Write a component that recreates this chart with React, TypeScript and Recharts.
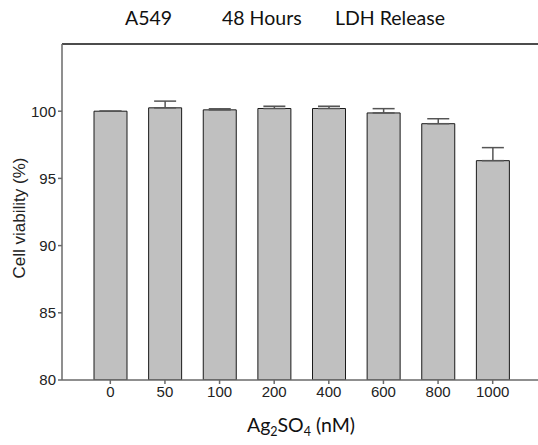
import React from "react";
import { BarChart, Bar, XAxis, YAxis, ErrorBar, ReferenceLine } from "recharts";

const categories = ["0", "50", "100", "200", "400", "600", "800", "1000"];
const viability = [100.0, 100.25, 100.1, 100.2, 100.2, 99.87, 99.07, 96.32];
const upperError = [0, 0.5, 0.08, 0.17, 0.17, 0.32, 0.37, 0.97];
const yTicks = [80, 85, 90, 95, 100];

const data = categories.map((c, i) => ({
  dose: c,
  value: viability[i],
  err: [0, upperError[i]],
}));

const axisColor = "#6a6a6a";
const calibriLike = "Lato, sans-serif";
const arialLike = "Liberation Sans, Arial, sans-serif";

export default function App() {
  return (
    <div style={{ position: "absolute", left: 0, top: 0, width: 538, height: 445, background: "#fff" }}>
      <div style={{ position: "absolute", top: 6, left: 0, width: 538, height: 28, fontFamily: calibriLike, fontSize: 19.5, color: "#111" }}>
        <span style={{ position: "absolute", left: 125 }}>A549</span>
        <span style={{ position: "absolute", left: 222 }}>48 Hours</span>
        <span style={{ position: "absolute", left: 335 }}>LDH Release</span>
      </div>
      <BarChart
        width={538}
        height={445}
        data={data}
        margin={{ top: 44, right: 0, left: 0, bottom: 35 }}
      >
        <ReferenceLine y={105} stroke="#111" strokeWidth={1.5} ifOverflow="extendDomain" />
        <XAxis
          dataKey="dose"
          height={30}
          padding={{ left: 21, right: 18 }}
          stroke={axisColor}
          strokeWidth={1.5}
          tickSize={4}
          tick={{ fill: "#222", fontSize: 15, fontFamily: arialLike }}
          tickLine={{ stroke: axisColor, strokeWidth: 1.5 }}
        />
        <YAxis
          width={62}
          domain={[80, 105]}
          ticks={yTicks}
          allowDataOverflow
          stroke={axisColor}
          strokeWidth={1.5}
          tickSize={4}
          tick={{ fill: "#222", fontSize: 15, fontFamily: arialLike }}
          tickLine={{ stroke: axisColor, strokeWidth: 1.5 }}
        />
        <Bar dataKey="value" fill="#c0c0c0" stroke="#1a1a1a" strokeWidth={1} barSize={33} isAnimationActive={false}>
          <ErrorBar dataKey="err" direction="y" width={11} stroke="#555" strokeWidth={1.5} isAnimationActive={false} />
        </Bar>
      </BarChart>
      <div
        style={{
          position: "absolute",
          left: 20,
          top: 218,
          transform: "translate(-50%, -50%) rotate(-90deg)",
          whiteSpace: "nowrap",
          fontFamily: arialLike,
          fontSize: 17,
          color: "#222",
        }}
      >
        Cell viability (%)
      </div>
      <div
        style={{
          position: "absolute",
          left: 301,
          top: 426,
          transform: "translate(-50%, -50%)",
          whiteSpace: "nowrap",
          fontFamily: calibriLike,
          fontSize: 19.5,
          color: "#111",
        }}
      >
        Ag<sub style={{ fontSize: 12.5 }}>2</sub>SO<sub style={{ fontSize: 12.5 }}>4</sub> (nM)
      </div>
    </div>
  );
}
